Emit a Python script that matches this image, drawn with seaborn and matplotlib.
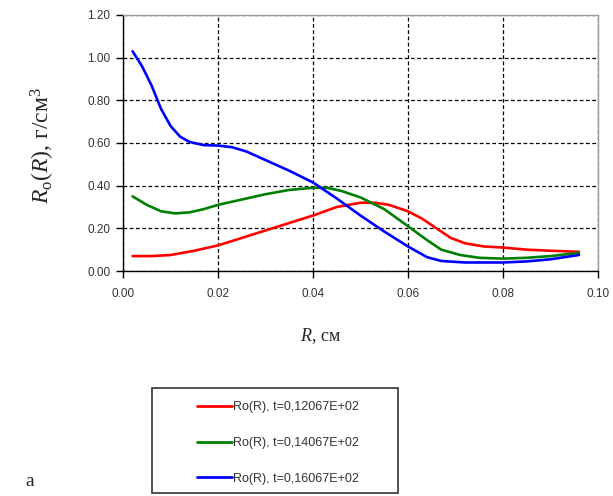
import numpy as np
import pandas as pd
import matplotlib
matplotlib.use("Agg")
import matplotlib.pyplot as plt
import seaborn as sns

# radius, cm
r_red = [0.002, 0.006, 0.010, 0.015, 0.020, 0.025, 0.030, 0.035, 0.040, 0.045, 0.050,
         0.053, 0.056, 0.060, 0.063, 0.066, 0.069, 0.072, 0.076, 0.080, 0.085, 0.090, 0.096]
ro_red = [0.07, 0.07, 0.075, 0.095, 0.12, 0.155, 0.19, 0.225, 0.26, 0.30, 0.32,
          0.32, 0.31, 0.28, 0.245, 0.20, 0.155, 0.13, 0.115, 0.11, 0.10, 0.095, 0.09]

r_green = [0.002, 0.005, 0.008, 0.011, 0.014, 0.017, 0.020, 0.025, 0.030, 0.035, 0.040,
           0.043, 0.046, 0.050, 0.055, 0.060, 0.064, 0.067, 0.071, 0.075, 0.080, 0.085, 0.090, 0.096]
ro_green = [0.35, 0.31, 0.28, 0.27, 0.275, 0.29, 0.31, 0.335, 0.36, 0.38, 0.39,
            0.39, 0.375, 0.345, 0.29, 0.21, 0.145, 0.10, 0.075, 0.062, 0.058, 0.062, 0.07, 0.085]

r_blue = [0.002, 0.004, 0.006, 0.008, 0.010, 0.012, 0.014, 0.017, 0.020, 0.023, 0.026,
          0.030, 0.035, 0.040, 0.045, 0.050, 0.055, 0.060, 0.064, 0.067, 0.072, 0.080, 0.085, 0.090, 0.096]
ro_blue = [1.03, 0.96, 0.87, 0.76, 0.68, 0.63, 0.605, 0.59, 0.588, 0.58, 0.56,
           0.52, 0.47, 0.415, 0.34, 0.26, 0.185, 0.115, 0.065, 0.047, 0.04, 0.04, 0.045, 0.055, 0.075]

labels = ["Ro(R), t=0,12067E+02", "Ro(R), t=0,14067E+02", "Ro(R), t=0,16067E+02"]
colors = ["#ff0000", "#008000", "#0000ff"]

frames = []
for lab, r, ro in zip(labels, [r_red, r_green, r_blue], [ro_red, ro_green, ro_blue]):
    frames.append(pd.DataFrame({"R": r, "Ro": ro, "series": lab}))
df = pd.concat(frames, ignore_index=True)

sns.set_style("white")
plt.rcParams["font.family"] = ["Liberation Sans", "DejaVu Sans"]
plt.rcParams["mathtext.fontset"] = "custom"
plt.rcParams["mathtext.rm"] = "Liberation Serif"
plt.rcParams["mathtext.it"] = "Liberation Serif:italic"

fig = plt.figure(figsize=(6.13, 4.96), dpi=100)
ax = fig.add_axes([0.2007, 0.4536, 0.7748, 0.5162])

sns.lineplot(data=df, x="R", y="Ro", hue="series", palette=colors,
             estimator=None, sort=False, linewidth=1.9, ax=ax, legend=False)

ax.set_xlim(0, 0.10)
ax.set_ylim(0, 1.20)
ax.set_xticks(np.arange(0, 0.101, 0.02))
ax.set_yticks(np.arange(0, 1.21, 0.2))
ax.xaxis.set_major_formatter(matplotlib.ticker.FormatStrFormatter("%.2f"))
ax.yaxis.set_major_formatter(matplotlib.ticker.FormatStrFormatter("%.2f"))
ax.tick_params(axis="both", labelsize=8.5, colors="black", labelcolor="#333333",
               length=5, width=1, direction="out", left=True, bottom=True)
ax.tick_params(axis="x", pad=7)
ax.tick_params(axis="y", pad=4)

ax.grid(True, color="black", linestyle=(0, (3, 2)), linewidth=0.9)
for side in ["left", "bottom"]:
    ax.spines[side].set_color("black")
    ax.spines[side].set_linewidth(1)
for side in ["top", "right"]:
    ax.spines[side].set_color("#999999")
    ax.spines[side].set_linewidth(1)

ax.set_xlabel("")
ax.set_ylabel("")
fig.text(0.522, 0.322, r"$R$, см", family="Liberation Serif", fontsize=13,
         ha="center", va="center")
fig.text(0.070, 0.706, r"$R_{\mathrm{o}}(R)$, г/см$^{3}$", family="Liberation Serif",
         fontsize=17, rotation=90, ha="center", va="center")
fig.text(0.049, 0.03, "а", family="Liberation Serif", fontsize=14, ha="center", va="center")

# legend box drawn separately so the entries can sit centred inside it
box = matplotlib.patches.Rectangle((152 / 613, 1 - 493 / 496), 246 / 613, 105 / 496,
                                   transform=fig.transFigure, fill=False,
                                   edgecolor="#333333", linewidth=1.2)
fig.patches.append(box)
handles = [matplotlib.lines.Line2D([], [], color=c, linewidth=2) for c in colors]
leg = fig.legend(handles, labels, loc="center", bbox_to_anchor=(0.454, 1 - 443 / 496),
                 fontsize=9, frameon=False, handlelength=2.8, handletextpad=0.1,
                 labelspacing=1.9, borderaxespad=0.0)
for t in leg.get_texts():
    t.set_color("#333333")

fig.savefig("out.png", dpi=100)
